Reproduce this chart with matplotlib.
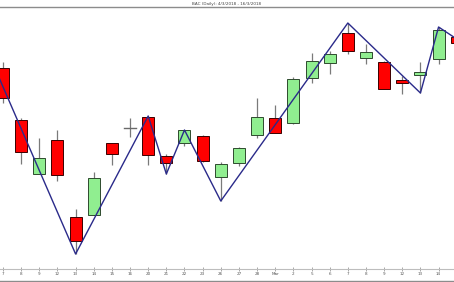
import matplotlib
matplotlib.use("Agg")
import matplotlib.pyplot as plt
from matplotlib.lines import Line2D
from matplotlib.patches import Rectangle
import numpy as np

title = "BAC (Daily): 4/3/2018 - 16/3/2018"

tick_labels = ["7", "8", "9", "12", "13", "14", "15", "16", "20", "21", "22",
               "23", "26", "27", "28", "Mar", "2", "5", "6", "7", "8", "9",
               "12", "13", "14"]

opens = [32.78, 31.74, 30.66, 31.34, 29.80, 29.84, 31.28, 31.58, 31.80,
         31.02, 31.28, 31.42, 30.60, 30.88, 31.44, 31.78, 31.68, 32.58,
         32.88, 33.48, 32.98, 32.90, 32.54, 32.64, 32.96, 33.40]
highs = [32.90, 31.78, 31.38, 31.54, 29.96, 30.70, 31.28, 31.78, 31.82,
         31.06, 31.54, 31.44, 30.90, 31.20, 32.18, 32.04, 32.60, 33.08,
         33.12, 33.68, 33.26, 32.92, 32.62, 32.90, 33.60, 33.44]
lows = [32.08, 30.86, 30.66, 30.52, 29.06, 29.84, 30.84, 31.40, 30.84,
        30.66, 31.22, 30.90, 30.12, 30.82, 31.38, 31.48, 31.66, 32.48,
        32.66, 33.06, 32.86, 32.36, 32.26, 32.28, 32.86, 33.24]
closes = [32.18, 31.10, 30.98, 30.64, 29.32, 30.58, 31.06, 31.58, 31.04,
          30.88, 31.54, 30.92, 30.86, 31.18, 31.80, 31.48, 32.56, 32.92,
          33.06, 33.12, 33.10, 32.36, 32.48, 32.70, 33.54, 33.28]

# zigzag pivots (bar index, price)
pivot_idx = [-1, 4, 8, 9, 10, 12, 19, 23, 24, 26]
pivot_price = [33.24, 29.06, 31.82, 30.66, 31.54, 30.12, 33.68, 32.28,
               33.60, 33.12]


def drawCandles(ax, width=0.66):
    """
    Draw wicks and bodies of the candles
    """
    for i in range(len(opens)):
        o, h, l, c = opens[i], highs[i], lows[i], closes[i]
        ax.plot([i, i], [l, h], color="#7a7a7a", lw=0.9, zorder=1,
                solid_capstyle="butt")
        if abs(c - o) < 1e-6:
            ax.plot([i - width / 2, i + width / 2], [o, o], color="#6a6a6a",
                    lw=1.0, zorder=2)
            continue
        if c > o:
            face, edge = "#90EE90", "#2e4a2e"
        else:
            face, edge = "#FF0000", "#3a0000"
        ax.add_patch(Rectangle((i - width / 2, min(o, c)), width, abs(c - o),
                               facecolor=face, edgecolor=edge, lw=0.7,
                               zorder=2))


def main():
    fig = plt.figure(figsize=(4.54, 2.82), dpi=100)
    ax = fig.add_axes([0, 13 / 282, 1, 262 / 282])
    drawCandles(ax)
    ax.plot(pivot_idx, pivot_price, color="#2a2a8a", lw=1.0, zorder=3)

    ax.set_xlim(-0.165, 24.85)
    ax.set_ylim(28.76, 34.0)
    ax.set_xticks(np.arange(len(tick_labels)))
    ax.set_xticklabels(tick_labels, fontsize=3, color="#555555")
    ax.tick_params(axis="x", direction="inout", length=3, width=0.6,
                   color="#999999", pad=1)
    ax.set_yticks([])
    ax.spines["left"].set_visible(False)
    ax.spines["right"].set_visible(False)
    ax.spines["top"].set_color("#8c8c8c")
    ax.spines["top"].set_linewidth(1.0)
    ax.spines["bottom"].set_color("#bdbdbd")
    ax.spines["bottom"].set_linewidth(0.8)

    fig.add_artist(Line2D([0, 1], [1.5 / 282, 1.5 / 282], color="#8c8c8c",
                          lw=1.0, transform=fig.transFigure))
    fig.text(0.5, 1 - 3.5 / 282, title, fontsize=3, color="#444444",
             ha="center", va="center")

    fig.savefig("out.png", dpi=100)


if __name__ == "__main__":
    main()
